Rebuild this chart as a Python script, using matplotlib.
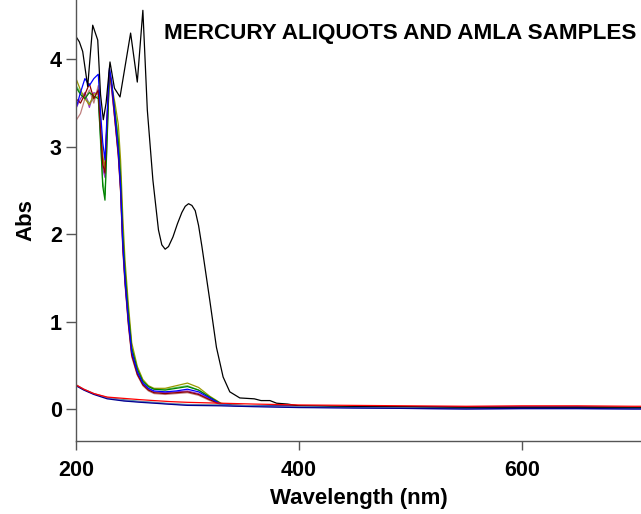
import matplotlib
matplotlib.use("Agg")
import matplotlib.pyplot as plt

plt.rcParams['font.family'] = ['Liberation Sans', 'DejaVu Sans']

# ---- data ----
wl_samples = [200, 204, 208, 212, 216, 220, 222, 224, 226, 228, 230, 232, 235, 238,
              240, 242, 244, 247, 250, 255, 260, 265, 270, 280, 290, 300, 310, 320,
              330, 340, 360, 400, 450, 500, 550, 600, 650, 700, 710]

blue_s = [3.44, 3.62, 3.78, 3.70, 3.78, 3.83, 3.40, 3.05, 2.85, 3.40, 3.90, 3.75, 3.35, 2.95,
          2.55, 1.90, 1.48, 1.02, 0.66, 0.43, 0.30, 0.24, 0.21, 0.20, 0.21, 0.23, 0.20, 0.13,
          0.06, 0.045, 0.04, 0.035, 0.03, 0.03, 0.025, 0.025, 0.025, 0.02, 0.02]
darkred_s = [3.55, 3.50, 3.60, 3.72, 3.55, 3.65, 3.20, 2.80, 2.70, 3.35, 3.88, 3.70, 3.30, 2.90,
             2.50, 1.85, 1.45, 0.98, 0.62, 0.40, 0.28, 0.22, 0.19, 0.18, 0.19, 0.20, 0.17, 0.11,
             0.055, 0.045, 0.04, 0.035, 0.03, 0.03, 0.025, 0.025, 0.025, 0.02, 0.02]
green_s = [3.68, 3.60, 3.55, 3.62, 3.58, 3.55, 3.10, 2.55, 2.39, 3.10, 3.85, 3.72, 3.40, 3.05,
           2.65, 2.00, 1.58, 1.10, 0.70, 0.46, 0.32, 0.26, 0.23, 0.22, 0.24, 0.26, 0.22, 0.14,
           0.065, 0.045, 0.04, 0.035, 0.03, 0.03, 0.025, 0.02, 0.025, 0.02, 0.02]
olive_s = [3.78, 3.65, 3.55, 3.48, 3.60, 3.62, 3.25, 2.90, 2.75, 3.30, 3.80, 3.70, 3.50, 3.25,
           2.85, 2.20, 1.70, 1.20, 0.76, 0.49, 0.34, 0.27, 0.24, 0.24, 0.27, 0.30, 0.25, 0.15,
           0.07, 0.045, 0.04, 0.035, 0.03, 0.03, 0.02, 0.025, 0.025, 0.02, 0.02]
purple_s = [3.44, 3.55, 3.62, 3.45, 3.62, 3.60, 3.15, 2.75, 2.65, 3.25, 3.82, 3.65, 3.30, 2.92,
            2.52, 1.88, 1.46, 1.00, 0.64, 0.41, 0.29, 0.23, 0.20, 0.19, 0.20, 0.21, 0.18, 0.12,
            0.055, 0.045, 0.04, 0.035, 0.03, 0.03, 0.025, 0.025, 0.025, 0.02, 0.02]
rosy_s = [3.30, 3.38, 3.55, 3.65, 3.50, 3.70, 3.25, 2.85, 2.75, 3.30, 3.85, 3.68, 3.28, 2.88,
          2.48, 1.82, 1.42, 0.96, 0.60, 0.39, 0.27, 0.21, 0.18, 0.17, 0.18, 0.19, 0.16, 0.10,
          0.05, 0.045, 0.04, 0.035, 0.03, 0.03, 0.025, 0.025, 0.025, 0.02, 0.02]
lightgreen_s = [3.70, 3.62, 3.58, 3.50, 3.55, 3.58, 3.05, 2.60, 2.45, 3.15, 3.82, 3.70, 3.42, 3.10,
                2.70, 2.05, 1.60, 1.12, 0.72, 0.47, 0.33, 0.26, 0.23, 0.23, 0.25, 0.27, 0.22, 0.14,
                0.065, 0.045, 0.04, 0.035, 0.03, 0.03, 0.025, 0.025, 0.025, 0.02, 0.02]

wl_black = [200, 203, 206, 210.5, 215, 219.5, 222, 224.5, 227, 230.5, 234.5, 239.5, 249, 255,
            260, 264, 269, 274, 277, 280, 283, 287, 291, 295, 298, 301, 304, 307, 310, 313,
            320, 326, 332, 338, 347, 360, 366, 374, 380, 390, 400, 450, 500, 550, 600, 650,
            700, 710]
black_s = [4.26, 4.20, 4.09, 3.69, 4.39, 4.22, 3.60, 3.31, 3.50, 3.97, 3.67, 3.57, 4.30, 3.74,
           4.56, 3.42, 2.62, 2.05, 1.88, 1.83, 1.86, 1.97, 2.12, 2.25, 2.32, 2.35, 2.33, 2.27,
           2.10, 1.86, 1.25, 0.71, 0.37, 0.20, 0.13, 0.12, 0.10, 0.10, 0.07, 0.06, 0.04, 0.03,
           0.03, 0.02, 0.02, 0.02, 0.02, 0.02]

wl_base = [200, 207, 216, 228, 243, 258, 270, 285, 300, 330, 360, 400, 450, 500, 550, 600,
           650, 700, 710]
red_b = [0.28, 0.23, 0.18, 0.14, 0.125, 0.11, 0.10, 0.088, 0.08, 0.07, 0.06, 0.05, 0.045,
         0.04, 0.035, 0.04, 0.04, 0.035, 0.035]
navy_b = [0.27, 0.22, 0.17, 0.12, 0.095, 0.08, 0.07, 0.057, 0.045, 0.04, 0.03, 0.02, 0.015,
          0.01, 0.005, 0.01, 0.01, 0.005, 0.005]
lavender_b = [0.27, 0.225, 0.175, 0.13, 0.10, 0.085, 0.075, 0.06, 0.05, 0.045, 0.035, 0.025,
              0.015, 0.01, 0.0, 0.005, 0.005, 0.0, 0.0]
teal_b = [0.28, 0.23, 0.18, 0.135, 0.11, 0.09, 0.08, 0.065, 0.055, 0.05, 0.04, 0.03, 0.02,
          0.015, 0.01, 0.01, 0.01, 0.01, 0.01]

x_ticks = [200, 400, 600]
y_ticks = [0, 1, 2, 3, 4]
title = "MERCURY ALIQUOTS AND AMLA SAMPLES"

# ---- figure ----
fig = plt.figure(figsize=(6.41, 5.14), dpi=100)
ax = fig.add_axes([76 / 641, 1 - 441 / 514, 1 - 76 / 641, 441 / 514])

lw = 0.9
sample_series = [
    (lightgreen_s, '#66CC66'), (rosy_s, '#C08080'), (purple_s, '#9933CC'),
    (olive_s, '#999900'), (green_s, '#008000'), (darkred_s, '#8B0000'),
    (blue_s, '#0000FF'),
]
for vals, c in sample_series:
    ax.plot(wl_samples, vals, color=c, lw=lw)

ax.plot(wl_black, black_s, color='black', lw=lw)

for vals, c in [(teal_b, '#4A9090'), (lavender_b, '#8080D0'), (navy_b, '#000090'), (red_b, '#FF0000')]:
    ax.plot(wl_base, vals, color=c, lw=lw)

ax.set_xlim(200, 707)
ax.set_ylim(-0.362, 4.678)
ax.set_xticks(x_ticks)
ax.set_yticks(y_ticks)
ax.set_xticklabels([str(v) for v in x_ticks], fontsize=15.5, fontweight='bold')
ax.set_yticklabels([str(v) for v in y_ticks], fontsize=15.5, fontweight='bold')

for s in ['top', 'right']:
    ax.spines[s].set_visible(False)
for s in ['left', 'bottom']:
    ax.spines[s].set_color('#555555')
    ax.spines[s].set_linewidth(1.0)
ax.tick_params(axis='x', direction='out', length=6.5, width=1.0, color='#555555', pad=7)
ax.tick_params(axis='y', direction='out', length=7.2, width=1.0, color='#555555', pad=3)

ax.set_xlabel("Wavelength (nm)", fontsize=16, fontweight='bold', labelpad=5)
ax.set_ylabel("Abs", fontsize=16, fontweight='bold', labelpad=10)

fig.text(636 / 641, 1 - 39 / 514, title, ha='right', va='baseline',
         fontsize=16.2, fontweight='bold')

fig.savefig("out.png", dpi=100)
